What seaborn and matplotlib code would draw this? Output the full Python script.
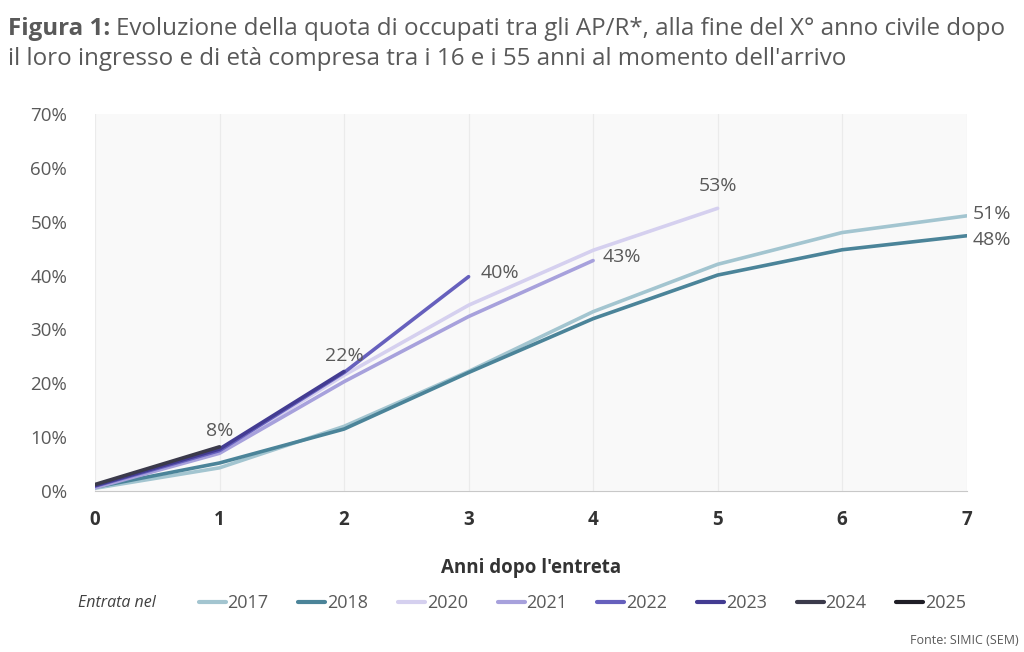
import pandas as pd
import matplotlib
matplotlib.use('Agg')
import matplotlib.pyplot as plt
from matplotlib.lines import Line2D
from matplotlib.ticker import PercentFormatter
import seaborn as sns

# Quota di occupati (%) per anno di entrata, anni dopo l'entrata
years = ['2017', '2018', '2020', '2021', '2022', '2023', '2024', '2025']
v2017 = [0.5, 4.3, 12.0, 22.2, 33.3, 42.1, 48.0, 51.1]
v2018 = [0.7, 5.2, 11.5, 22.0, 32.0, 40.1, 44.8, 47.4]
v2020 = [0.8, 7.2, 21.5, 34.5, 44.7, 52.5]
v2021 = [0.6, 7.0, 20.3, 32.4, 42.8]
v2022 = [0.9, 7.5, 22.0, 39.8]
v2023 = [1.0, 7.8, 22.2]
v2024 = [1.2, 8.2]
v2025 = [1.2]
series = [v2017, v2018, v2020, v2021, v2022, v2023, v2024, v2025]
colors = ['#a3c5d0', '#4b8499', '#d5d0ef', '#a7a1dc', '#6660bd', '#433c92', '#3b3a4b', '#1f1e26']

rows = []
for y, vals in zip(years, series):
    for i, v in enumerate(vals):
        rows.append({'anno': i, 'quota': v, 'entrata': y})
df = pd.DataFrame(rows)

sns.set_style('white')
plt.rcParams['font.family'] = ['Open Sans', 'DejaVu Sans']

fig = plt.figure(figsize=(10.24, 6.52), dpi=100)
ax = fig.add_axes([0.0928, 0.247, 0.944 - 0.0928, 0.825 - 0.247])
ax.set_facecolor('#f9f9f9')

sns.lineplot(data=df, x='anno', y='quota', hue='entrata', hue_order=years,
             palette=dict(zip(years, colors)), linewidth=2.6, legend=False, ax=ax)

ax.set_xlim(0, 7)
ax.set_ylim(0, 70)
ax.set_xticks(range(8))
ax.set_yticks(range(0, 71, 10))
ax.yaxis.set_major_formatter(PercentFormatter(decimals=0))
ax.grid(axis='x', color='#ebebeb', linewidth=0.9)
ax.grid(axis='y', visible=False)
for s in ['top', 'right', 'left']:
    ax.spines[s].set_visible(False)
ax.spines['bottom'].set_color('#c8c8c8')
ax.tick_params(axis='y', length=0, labelsize=13.5, labelcolor='#595959', pad=20)
ax.tick_params(axis='x', length=0, labelsize=13.5, pad=14)
for lab in ax.get_xticklabels():
    lab.set_fontweight('bold')
    lab.set_color('#333333')
ax.set_xlabel("Anni dopo l'entreta", fontsize=13.5, fontweight='bold', color='#333333', labelpad=20)
ax.set_ylabel('')

lc = '#595959'
fs = 14
ax.text(1, v2024[1] + 1.2, '8%', ha='center', va='bottom', fontsize=fs, color=lc)
ax.text(2, v2023[2] + 1.2, '22%', ha='center', va='bottom', fontsize=fs, color=lc)
ax.text(3.1, v2022[3] + 0.7, '40%', ha='left', va='center', fontsize=fs, color=lc)
ax.text(4.08, v2021[4] + 0.7, '43%', ha='left', va='center', fontsize=fs, color=lc)
ax.text(5, v2020[5] + 2.5, '53%', ha='center', va='bottom', fontsize=fs, color=lc)
ax.text(7.05, v2017[7] + 0.4, '51%', ha='left', va='center', fontsize=fs, color=lc, clip_on=False)
ax.text(7.05, v2018[7] - 0.7, '48%', ha='left', va='center', fontsize=fs, color=lc, clip_on=False)

# titolo
tfs = 17.4
t1 = fig.text(0.008, 0.947, 'Figura 1:', fontsize=tfs, fontweight='bold', color='#595959', va='baseline')
fig.canvas.draw()
bb = t1.get_window_extent()
x2 = (bb.x1 + 6) / fig.bbox.width
fig.text(x2, 0.947, "Evoluzione della quota di occupati tra gli AP/R*, alla fine del X° anno civile dopo",
         fontsize=tfs, color='#595959', va='baseline')
fig.text(0.008, 0.900, "il loro ingresso e di età compresa tra i 16 e i 55 anni al momento dell'arrivo",
         fontsize=tfs, color='#595959', va='baseline')

# legenda
handles = [Line2D([0], [0], color=c, linewidth=3) for c in colors]
fig.text(0.076, 0.075, 'Entrata nel', fontsize=11.5, style='italic', color='#404040', va='center')
fig.legend(handles, years, loc='center left', bbox_to_anchor=(0.178, 0.075), ncol=8,
           frameon=False, fontsize=13, handlelength=1.5, handletextpad=0.1, columnspacing=1.65,
           labelcolor='#595959')

fig.text(0.995, 0.018, 'Fonte: SIMIC (SEM)', fontsize=9, color='#595959', ha='right', va='center')

fig.savefig('out.png', dpi=100, facecolor='white')
